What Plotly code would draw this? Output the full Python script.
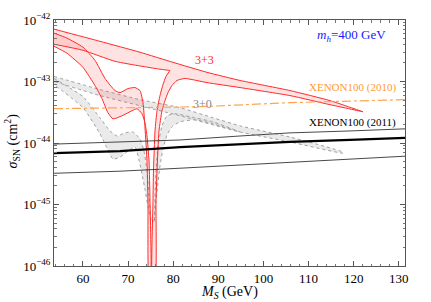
import plotly.graph_objects as go

# ---------------- data ----------------
# 3+3 (red) region: upper band top edge
red_top_m = [53.6, 63.8, 72.65, 79.96, 87.49, 94.81, 105.88, 114.74, 122.05]
red_top_s = [7.1e-43, 4.5e-43, 2.99e-43, 2.05e-43, 1.41e-43, 1.04e-43, 7.12e-44, 4.89e-44, 3.22e-44]
# lower edge on the right, running back into the dip
red_e2_m = [122.05, 114.74, 105.88, 94.81, 87.49, 82.62, 80.85, 79.74, 78.86, 78.19, 77.53, 76.86, 76.42, 76.20, 75.98]
red_e2_s = [3.22e-44, 4.2e-44, 5.9e-44, 7.97e-44, 9.6e-44, 1.12e-43, 1.04e-43, 8.6e-44, 6.6e-44, 4.89e-44,
            3.35e-44, 1.57e-44, 3.48e-45, 1.12e-45, 5e-47]
# inner edge rising from the dip up to the cusp
red_e1_m = [75.42, 75.53, 75.64, 75.98, 76.42, 77.08, 77.75, 78.41, 79.30]
red_e1_s = [5e-47, 1.12e-45, 3.48e-45, 1.57e-44, 3.35e-44, 5.9e-44, 8.9e-44, 1.21e-43, 1.51e-43]
# lower edge of the upper band, from the cusp back to the left
red_b_m = [79.30, 75.98, 67.11, 60.02, 53.6]
red_b_s = [1.51e-43, 1.63e-43, 2.13e-43, 3.22e-43, 4.04e-43]
# steep left band (two edges)
red_d1_m = [53.6, 56.48, 60.02, 62.68, 64.90, 67.11, 68.22, 70.00, 71.54, 72.65, 73.32, 73.76, 74.20, 74.42, 74.65]
red_d1_s = [6.12e-43, 5.07e-43, 3.61e-43, 2.21e-43, 1.12e-43, 7.12e-44, 6.6e-44, 7.68e-44, 7.97e-44, 7.12e-44,
            4.53e-44, 1.76e-44, 5.07e-45, 1.12e-45, 5e-47]
red_d2_m = [53.6, 56.48, 60.02, 62.68, 64.23, 65.56, 66.67, 68.66, 70.88, 71.99, 73.09, 73.76, 74.20, 74.65, 74.87, 74.98]
red_d2_s = [3.75e-43, 2.88e-43, 1.70e-43, 8.6e-44, 5.26e-44, 3.1e-44, 2.47e-44, 2.77e-44, 3.35e-44, 3.61e-44,
            2.99e-44, 2.13e-44, 1.30e-44, 5.07e-45, 1.12e-45, 5e-47]

# 3+0 (grey) region
grey_top_m = [53.6, 63.79, 72.65, 81.51, 88.82, 94.81, 105.88, 117.62]
grey_top_s = [1.21e-43, 7.39e-44, 5.07e-44, 3.75e-44, 2.57e-44, 1.90e-44, 1.25e-44, 7.1e-45]
grey_low_m = [117.62, 105.88, 94.81, 88.82, 81.51, 72.65, 63.79, 53.6]
grey_low_s = [6.85e-45, 1.04e-44, 1.51e-44, 1.97e-44, 2.77e-44, 4.04e-44, 5.9e-44, 1.0e-43]
grey_d1_m = [53.6, 60.02, 63.79, 66.01, 67.56, 69.33, 71.10, 72.65, 73.54, 74.20, 74.65, 75.09]
grey_d1_s = [1.12e-43, 5.67e-44, 2.57e-44, 1.57e-44, 1.30e-44, 1.46e-44, 1.51e-44, 1.16e-44, 7.39e-45,
             3.48e-45, 1.35e-45, 5.26e-46]
grey_d2_m = [75.09, 74.42, 73.76, 73.32, 72.65, 71.54, 70.00, 68.22, 66.67, 65.34, 63.79, 60.02, 53.6]
grey_d2_s = [5.26e-46, 9.27e-46, 1.76e-45, 2.57e-45, 4.53e-45, 8.6e-45, 7.39e-45, 5.89e-45, 5.47e-45,
             8.3e-45, 1.41e-44, 3.75e-44, 8.9e-44]
grey_r_out_m = [75.75, 76.42, 77.08, 77.75, 78.63, 79.74, 81.51, 84.84, 88.82, 94.81]
grey_r_out_s = [5.26e-46, 1.63e-45, 4.20e-45, 7.97e-45, 1.35e-44, 1.83e-44, 2.21e-44, 2.38e-44, 2.05e-44, 1.51e-44]
grey_r_in_m = [88.82, 83.73, 80.41, 78.63, 77.53, 76.64, 76.20, 75.98, 75.86]
grey_r_in_s = [2.21e-44, 2.67e-44, 2.99e-44, 2.77e-44, 1.90e-44, 8.9e-45, 3.48e-45, 1.35e-45, 5.26e-46]

# XENON100 (2010), orange dash-dot
x10_m = [53.6, 72.65, 85.94, 105.88, 131.36]
x10_s = [3.61e-44, 3.75e-44, 3.89e-44, 4.53e-44, 5.07e-44]

# XENON100 (2011): central (thick) and two thin lines
x11_m = [53.6, 68.22, 81.51, 94.81, 105.88, 119.17, 131.36]
x11_up_s = [9.6e-45, 1.04e-44, 1.12e-44, 1.30e-44, 1.46e-44, 1.57e-44, 1.70e-44]
x11_mid_s = [6.85e-45, 7.39e-45, 8.6e-45, 9.6e-45, 1.04e-44, 1.12e-44, 1.21e-44]
x11_lo_s = [3.22e-45, 3.48e-45, 3.89e-45, 4.36e-45, 4.89e-45, 5.47e-45, 6.1e-45]

x_ticks = [60, 70, 80, 90, 100, 110, 120, 130]
y_ticks = [1e-46, 1e-45, 1e-44, 1e-43, 1e-42]
y_ticktext = ["10<sup>−46</sup>", "10<sup>−45</sup>", "10<sup>−44</sup>", "10<sup>−43</sup>", "10<sup>−42</sup>"]

# ---------------- figure ----------------
FONT = "Liberation Serif"
RED = "#FF2A2A"
PINK = "rgba(255,60,60,0.14)"
GREY_FILL = "rgba(190,190,190,0.32)"
GREY_LINE = "#a0a0a0"

fig = go.Figure()

def poly(xs, ys, fill, line, dash="solid", width=1.0):
    fig.add_trace(go.Scatter(x=xs, y=ys, mode="lines", fill="toself", fillcolor=fill,
                             line=dict(color=line, width=width, dash=dash, shape="spline", smoothing=0.5),
                             hoverinfo="skip", showlegend=False))

# grey 3+0
poly(grey_top_m + grey_low_m, grey_top_s + grey_low_s, GREY_FILL, GREY_LINE, "dot")
poly(grey_d1_m + grey_d2_m, grey_d1_s + grey_d2_s, GREY_FILL, GREY_LINE, "dot")
poly(grey_r_out_m + grey_r_in_m, grey_r_out_s + grey_r_in_s, GREY_FILL, GREY_LINE, "dot")

# red 3+3
poly(red_top_m + red_e2_m + red_e1_m + red_b_m,
     red_top_s + red_e2_s + red_e1_s + red_b_s, PINK, RED)
poly(red_d1_m + red_d2_m[::-1], red_d1_s + red_d2_s[::-1], PINK, RED)

# XENON100 2010
fig.add_trace(go.Scatter(x=x10_m, y=x10_s, mode="lines",
                         line=dict(color="#FFA54F", width=1.2, dash="dashdot"),
                         hoverinfo="skip", showlegend=False))
# XENON100 2011
for ys, w, c in [(x11_up_s, 0.9, "#333333"), (x11_lo_s, 0.9, "#333333"), (x11_mid_s, 2.2, "#000000")]:
    fig.add_trace(go.Scatter(x=x11_m, y=ys, mode="lines", line=dict(color=c, width=w),
                             hoverinfo="skip", showlegend=False))

ann = [
    dict(x=87.05, y=-42.656, text="3+3", font=dict(color="#FF2A2A", size=12)),
    dict(x=86.4, y=-43.361, text="3+0", font=dict(color="#888888", size=12)),
    dict(x=119.8, y=-43.098, text="XENON100 (2010)", font=dict(color="#FF9A33", size=11)),
    dict(x=119.8, y=-43.672, text="XENON100 (2011)", font=dict(color="#000000", size=11)),
    dict(x=119.6, y=-42.246, text="<i>m</i><sub><i>h</i></sub>=400 GeV", font=dict(color="#1a1aff", size=13)),
]
for a in ann:
    a["font"]["family"] = FONT
    fig.add_annotation(x=a["x"], y=a["y"], xref="x", yref="y", text=a["text"], font=a["font"],
                       showarrow=False, xanchor="center", yanchor="middle")

fig.add_annotation(x=-0.12, y=0.51, xref="paper", yref="paper", textangle=-90,
                   text="<i>σ</i><sub>SN</sub> (cm<sup>2</sup>)", showarrow=False,
                   font=dict(family=FONT, size=14, color="black"), xanchor="center", yanchor="middle")
fig.add_annotation(x=0.4986, y=-0.106, xref="paper", yref="paper",
                   text="<i>M</i><sub><i>S</i></sub> (GeV)", showarrow=False,
                   font=dict(family=FONT, size=14, color="black"), xanchor="center", yanchor="middle")

y_minor = [m * 10 ** e for e in range(-46, -42) for m in range(2, 10)]
x_minor = [v for v in range(54, 132, 2) if v % 10 != 0]

axis_common = dict(showgrid=False, zeroline=False, showline=True, linecolor="#555555", linewidth=1,
                   mirror="allticks", ticks="inside", ticklen=5, tickcolor="#555555", tickwidth=1,
                   tickfont=dict(family=FONT, size=13, color="black"))

fig.update_xaxes(range=[53.6, 131.36], tickvals=x_ticks,
                 minor=dict(tickvals=x_minor, ticks="inside", ticklen=2.5, tickcolor="#777777"),
                 **axis_common)
fig.update_yaxes(type="log", range=[-46, -42], tickvals=y_ticks, ticktext=y_ticktext,
                 minor=dict(tickvals=y_minor, ticks="inside", ticklen=2.5, tickcolor="#777777"),
                 **axis_common)

fig.update_layout(width=431, height=302, margin=dict(l=54, r=26, t=20, b=36),
                  paper_bgcolor="white", plot_bgcolor="white", showlegend=False)

fig.write_html("out.html", config={"displayModeBar": False},
               post_script="document.body.style.margin='0';document.body.style.overflow='hidden';")
